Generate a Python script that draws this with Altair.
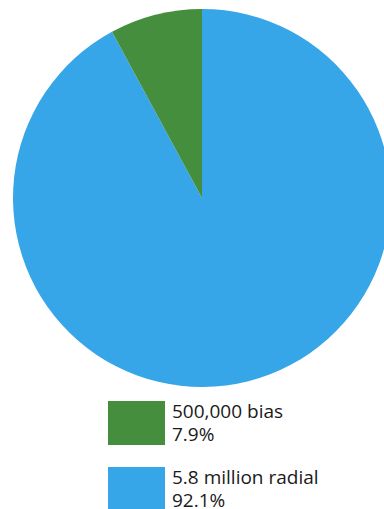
import altair as alt
import pandas as pd

# Data
categories = ["5.8 million radial", "500,000 bias"]
shares = [92.1, 7.9]
share_labels = ["92.1%", "7.9%"]
colors = ["#37a6e8", "#448e3e"]
legend_order = ["500,000 bias", "5.8 million radial"]

df = pd.DataFrame({
    "category": categories,
    "share": shares,
    "order": [0, 1],
    "label": [f"{c}\n{s}" for c, s in zip(categories, share_labels)],
})

color_enc = alt.Color(
    "category:N",
    scale=alt.Scale(domain=categories, range=colors),
    legend=None,
)

pie = alt.Chart(df).mark_arc(radius=189, stroke=None).encode(
    theta=alt.Theta("share:Q", stack=True),
    order=alt.Order("order:Q"),
    color=color_enc,
    x=alt.value(202),
    y=alt.value(198),
)

y_enc = alt.Y(
    "category:N",
    sort=legend_order,
    scale=alt.Scale(range=[401, 511], paddingInner=1 / 3, paddingOuter=0),
    axis=None,
)

legend_rect = alt.Chart(df).mark_rect().encode(
    x=alt.value(108),
    x2=alt.value(165),
    y=y_enc,
    color=color_enc,
)

legend_text = alt.Chart(df).mark_text(
    align="left",
    baseline="middle",
    lineBreak="\n",
    lineHeight=23,
    dy=-11,
    font="Open Sans",
    fontSize=19,
    fontWeight=500,
    color="#1a1a1a",
).encode(
    x=alt.value(172),
    y=alt.Y("category:N", sort=legend_order, axis=None, bandPosition=0.5),
    text="label:N",
)

chart = alt.layer(pie, legend_rect, legend_text).properties(
    width=384,
    height=509,
    autosize=alt.AutoSizeParams(type="none"),
    padding=0,
).configure_view(stroke=None)

chart.save("out.html", embed_options={"renderer": "svg", "actions": False})
